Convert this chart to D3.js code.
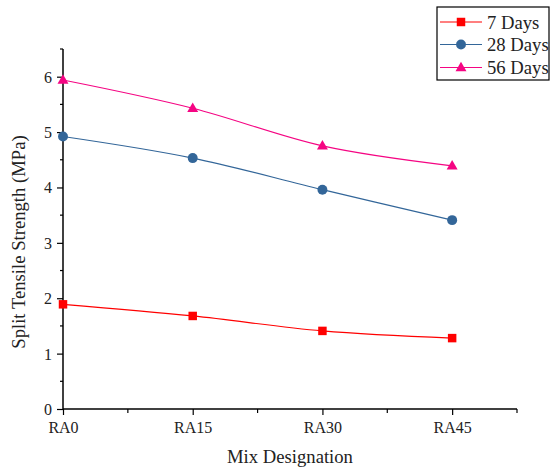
<!DOCTYPE html>
<html>
<head>
<meta charset="utf-8">
<script src="https://cdn.jsdelivr.net/npm/d3@7/dist/d3.min.js"></script>
</head>
<body style="margin:0;padding:0;background:#fff">
<svg id="chart" width="552" height="470" style="display:block;font-family:'Liberation Serif'" font-family="Liberation Serif"></svg>
<script>
const categories = ["RA0", "RA15", "RA30", "RA45"];
const seriesNames = ["7 Days", "28 Days", "56 Days"];
const days7 = [1.89, 1.68, 1.41, 1.28];
const days28 = [4.92, 4.53, 3.96, 3.41];
const days56 = [5.94, 5.43, 4.75, 4.39];
const yTicks = [0, 1, 2, 3, 4, 5, 6];
const colors = ["#ff0000", "#336699", "#f50583"];
const markers = [d3.symbolSquare, d3.symbolCircle, d3.symbolTriangle];

const series = [days7, days28, days56];
const FONT = "Liberation Serif";

const svg = d3.select("#chart");
const x = d3.scaleLinear().domain([0, 3.5]).range([63, 517]);
const y = d3.scaleLinear().domain([0, 6.5]).range([409, 49]);

// axes
const xAxis = d3.axisBottom(x).tickValues([0, 1, 2, 3]).tickSize(6)
  .tickFormat(i => categories[i]);
const gx = svg.append("g").attr("transform", "translate(0,409)").call(xAxis)
  .attr("font-family", FONT);
gx.select(".domain").attr("stroke", "#000").attr("stroke-width", 1.5).attr("d", "M63,0H517");
gx.selectAll(".tick line").attr("stroke", "#000").attr("stroke-width", 1.2);
gx.selectAll(".tick text").attr("font-size", 16).attr("dy", 0).attr("y", 24)
  .attr("fill", "#222").style("font-family", FONT);
// minor x ticks
svg.append("g").selectAll("line").data([0.5, 1.5, 2.5, 3.5]).join("line")
  .attr("x1", d => x(d)).attr("x2", d => x(d)).attr("y1", 409).attr("y2", 413)
  .attr("stroke", "#000").attr("stroke-width", 1.2);

const yAxis = d3.axisLeft(y).tickValues(yTicks).tickSize(6).tickFormat(d3.format("d"));
const gy = svg.append("g").attr("transform", "translate(63,0)").call(yAxis)
  .attr("font-family", FONT);
gy.select(".domain").attr("stroke", "#000").attr("stroke-width", 1.5).attr("d", "M0,409V49");
gy.selectAll(".tick line").attr("stroke", "#000").attr("stroke-width", 1.2);
gy.selectAll(".tick text").attr("font-size", 16).attr("x", -11).attr("dy", "0.34em")
  .attr("fill", "#222").style("font-family", FONT);
// minor y ticks
svg.append("g").selectAll("line").data([0.5, 1.5, 2.5, 3.5, 4.5, 5.5, 6.5]).join("line")
  .attr("x1", 60).attr("x2", 63).attr("y1", d => y(d)).attr("y2", d => y(d))
  .attr("stroke", "#000").attr("stroke-width", 1.2);

// titles
svg.append("text").attr("x", 290).attr("y", 463).attr("text-anchor", "middle")
  .attr("font-size", 18.67).attr("fill", "#222").style("font-family", FONT).text("Mix Designation");
svg.append("text").attr("transform", "translate(25,242) rotate(-90)")
  .attr("text-anchor", "middle").attr("font-size", 18.67).attr("fill", "#222")
  .style("font-family", FONT).text("Split Tensile Strength (MPa)");

// lines
const line = d3.line().x((d, i) => x(i)).y(d => y(d)).curve(d3.curveCatmullRom.alpha(0.5));
const plot = svg.append("g");
series.forEach((s, k) => {
  plot.append("path").attr("d", line(s)).attr("fill", "none")
    .attr("stroke", colors[k]).attr("stroke-width", 1.2);
});
const symSizes = [72, 78, 52];
series.forEach((s, k) => {
  plot.selectAll(null).data(s).join("path")
    .attr("transform", (d, i) => `translate(${x(i)},${y(d) + (k === 2 ? 0.5 : 0)})`)
    .attr("d", d3.symbol().type(markers[k]).size(symSizes[k]))
    .attr("fill", colors[k]);
});

// legend
const lg = svg.append("g");
lg.append("rect").attr("x", 437).attr("y", 7).attr("width", 112).attr("height", 73)
  .attr("fill", "#fff").attr("stroke", "#000").attr("stroke-width", 1.2);
const rowsY = [22, 44.5, 67.5];
seriesNames.forEach((n, k) => {
  lg.append("line").attr("x1", 440).attr("x2", 482).attr("y1", rowsY[k]).attr("y2", rowsY[k])
    .attr("stroke", colors[k]).attr("stroke-width", 1.2);
  lg.append("path").attr("transform", `translate(461,${rowsY[k] + (k === 2 ? 0.5 : 0)})`)
    .attr("d", d3.symbol().type(markers[k]).size(symSizes[k])).attr("fill", colors[k]);
  lg.append("text").attr("x", 487).attr("y", rowsY[k]).attr("dy", "0.35em")
    .attr("font-size", 18.67).attr("fill", "#222").style("font-family", FONT).text(n);
});
</script>
</body>
</html>
